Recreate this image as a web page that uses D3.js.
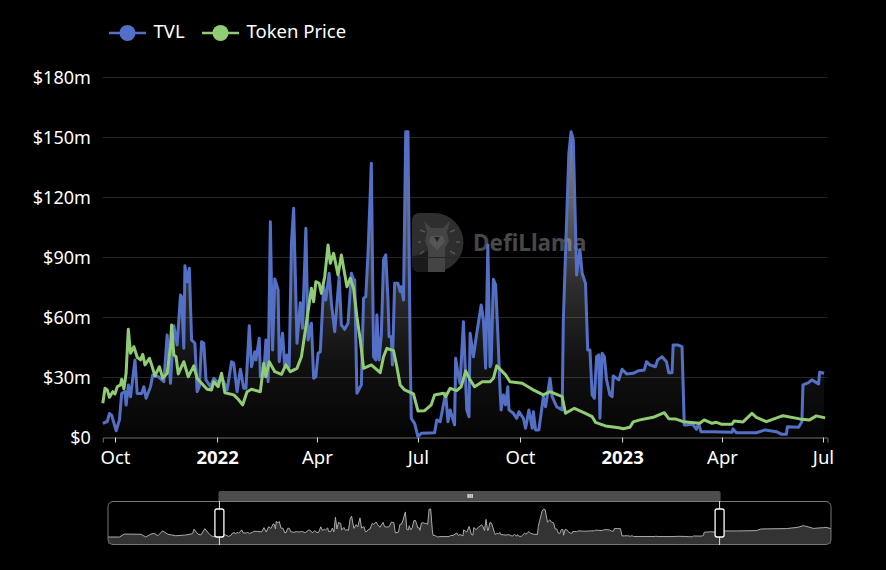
<!DOCTYPE html>
<html>
<head>
<meta charset="utf-8">
<script src="https://cdn.jsdelivr.net/npm/d3@7"></script>
<style>
	html, body { margin: 0; padding: 0; background: #000; }
	svg { display: block; }
	text { font-family: "Noto Sans", sans-serif; }
</style>
</head>
<body>
<div id="chart"></div>
<script>
// days are counted from 2021-10-01, values in $m
var tvlDays = [
	-11, -7, -5, -3, 1, 4, 6, 9, 10, 12,
	14, 18, 20, 24, 26, 28, 32, 34, 39, 44,
	47, 50, 53, 56, 59, 60, 62, 63, 65, 67,
	69, 72, 74, 76, 78, 80, 82, 86, 89, 93,
	96, 101, 105, 107, 110, 113, 116, 118, 121, 123,
	126, 127, 130, 131, 134, 136, 138, 140, 142, 144,
	147, 148, 151, 153, 155, 157, 159, 161, 164, 167,
	169, 172, 174, 177, 179, 181, 183, 185, 188, 190,
	193, 195, 198, 202, 204, 207, 210, 213, 215, 216,
	218, 222, 224, 226, 228, 231, 233, 235, 236, 238,
	240, 242, 244, 246, 247, 249, 250, 252, 255, 257,
	258, 260, 262, 264, 266, 267, 270, 273, 276, 288,
	290, 293, 298, 300, 302, 306, 307, 309, 311, 314,
	317, 319, 320, 323, 326, 330, 332, 334, 336, 338,
	339, 341, 343, 345, 347, 348, 350, 352, 354, 355,
	359, 362, 364, 368, 370, 373, 376, 377, 379, 382,
	386, 388, 392, 394, 398, 403, 404, 406, 409, 411,
	413, 416, 419, 421, 424, 426, 428, 430, 432, 434,
	436, 437, 439, 441, 443, 446, 448, 449, 454, 457,
	461, 467, 472, 477, 479, 482, 487, 489, 493, 497,
	499, 502, 503, 507, 511, 513, 516, 520, 524, 526,
	528, 539, 556, 557, 560, 578, 586, 596, 601, 605,
	606, 616, 619, 620, 625, 628, 634, 635, 639
];
var tvlValues = [
	7.1, 8, 12, 11.2, 3.4, 8.8, 22, 23, 16.2, 26.2,
	20.4, 38.8, 22, 22, 25.4, 19.6, 25.4, 31.2, 30.4, 27.9,
	51.2, 27.1, 55.9, 46.3, 71.2, 70.4, 44.6, 85.9, 77.9, 84.6,
	48.8, 47.1, 22.9, 25.4, 47.9, 47.1, 28.8, 25.4, 29.6, 27.1,
	30.4, 23.8, 37.9, 37.1, 22.9, 34.1, 24.6, 24.6, 55.9, 35.4,
	42.9, 38.8, 49.6, 30.4, 30.4, 48.8, 27.9, 107.9, 43.8, 79.3,
	73.8, 37.9, 52.1, 35.4, 41.3, 35.4, 97.1, 114.6, 47.1, 67.4,
	54.6, 104.6, 48.8, 57.1, 29.6, 30.4, 42.1, 42.9, 75.4, 68.8,
	82.1, 67.1, 52.9, 80.4, 56.3, 54.1, 57.1, 82.1, 78.8, 78.8,
	22.1, 26.3, 69.6, 70.4, 92.1, 137.1, 40.4, 38.8, 61.3, 38.8,
	51.3, 88.8, 91.3, 68.8, 50.4, 50.4, 36.3, 77.1, 77.1, 72.9,
	75.4, 68.8, 152.9, 152.9, 42.1, 9.6, 7.1, 0.4, 2.1, 2.4,
	8.8, 7.9, 22.1, 7.9, 13.8, 6.3, 39.6, 32.1, 27.1, 57.9,
	13.8, 10.4, 52.1, 40.4, 52.1, 66.3, 58.8, 34.6, 96.3, 35.4,
	37.1, 79.1, 76.3, 52.1, 23.8, 13.8, 21.3, 16.3, 25.4, 13.8,
	12.1, 9.6, 12.9, 9.6, 4.6, 13.8, 4.6, 12.9, 3.8, 3.8,
	20.4, 15.4, 29.6, 20.4, 15.4, 13.8, 57.9, 92.1, 142.1, 152.9,
	148.8, 81.3, 93.8, 82.1, 77.1, 43.8, 43.8, 21.3, 19.6, 40.4,
	41.3, 9.6, 42.1, 40.4, 28.8, 21.3, 20.4, 30.8, 28.8, 34.1,
	31.8, 32.1, 33.4, 33.8, 37.9, 36.3, 35.4, 38.8, 40.4, 37.9,
	32.4, 32.4, 46.3, 46.3, 45.4, 6.3, 6.3, 7.1, 4.1, 7.1,
	2.9, 2.9, 2.6, 4.3, 2.4, 2.4, 3.8, 2.9, 1.6, 1.6,
	5.4, 5.1, 7.9, 26.3, 27.4, 28.8, 26.8, 32.6, 32.1
];

var priceDays = [
	-11, -9, -7, -5, -2, 0, 2, 5, 6, 8,
	10, 12, 14, 17, 20, 23, 25, 27, 31, 33,
	36, 40, 43, 47, 50, 51, 53, 55, 57, 62,
	66, 71, 74, 78, 83, 87, 89, 93, 96, 99,
	107, 111, 115, 119, 123, 131, 134, 136, 139, 144,
	150, 154, 158, 164, 168, 172, 177, 179, 181, 184,
	186, 189, 192, 194, 197, 201, 204, 209, 212, 215,
	218, 221, 224, 231, 239, 242, 245, 251, 254, 257,
	261, 269, 273, 279, 285, 288, 296, 298, 302, 308,
	312, 316, 320, 324, 331, 338, 341, 344, 352, 356,
	367, 376, 386, 392, 403, 406, 414, 422, 430, 433,
	442, 454, 458, 464, 467, 473, 485, 495, 499, 505,
	512, 527, 531, 538, 542, 547, 556, 558, 566, 574,
	578, 587, 602, 617, 626, 632, 640
];
var priceValues = [
	17.1, 24.6, 23.8, 20.1, 22.9, 21.8, 25.4, 26.3, 29.1, 24.4,
	32.1, 54.1, 42.1, 45.4, 40.1, 38.8, 41.6, 36.3, 39.6, 36.3,
	30.8, 35.4, 29.6, 32.1, 45.4, 56.3, 41.3, 40.4, 31.8, 37.9,
	30.4, 35.8, 29.6, 27.1, 24.1, 23.8, 27.9, 25.4, 32.1, 22.4,
	21.3, 19.1, 16.3, 22.9, 24.1, 22.9, 37.1, 30.4, 37.9, 32.9,
	31.6, 36.3, 32.9, 34.6, 40.4, 55.4, 74.6, 67.9, 77.9, 77.1,
	72.1, 80.4, 96.3, 87.1, 92.1, 81.3, 91.3, 75.4, 79.6, 74.6,
	60.4, 48.8, 34.6, 36.3, 32.4, 40.4, 44.6, 43.4, 35.4, 26.3,
	23.8, 21.8, 13.3, 13.4, 16.3, 21.3, 22.1, 20.4, 24.6, 23.4,
	25.4, 33.3, 28.8, 25.4, 27.9, 27.9, 29.6, 35.8, 31.3, 27.9,
	27.1, 24.1, 21.3, 22.9, 20.4, 12.1, 14.6, 12.6, 10.4, 7.6,
	5.8, 4.9, 4.4, 5.1, 7.8, 8.8, 10.1, 12.4, 9.4, 9.3,
	7.9, 7.1, 8.8, 7.1, 7.6, 6.6, 6.6, 8.3, 7.8, 12.1,
	10.1, 7.9, 10.9, 9.3, 8.8, 10.8, 9.8
];

// part of the history outside the zoomed window, only seen in the slider
var beforeDays = [-156, -141, -135, -113, -107, -100, -96, -91, -85, -78, -68, -55, -46, -44, -39, -35, -30, -24, -20, -13];
var beforeValues = [0, 0, 16, 15, 0, 16, 20, 7, 33, 15, 7, 11, 18, 42, 16, 11, 46, 15, 2, 2];
var afterDays = [645, 662, 688, 694, 727, 742, 749, 755, 762, 775, 778, 785];
var afterValues = [33, 33, 35, 44, 46, 53, 62, 56, 47, 51, 53, 46];

var seriesNames = ['TVL', 'Token Price'];
var seriesColors = ['#5470c6', '#91cc75'];
var yTicks = [0, 30, 60, 90, 120, 150, 180];
var xTickDays = [0, 92, 182, 273, 365, 457, 547, 638];
var xTickLabels = ['Oct', '2022', 'Apr', 'Jul', 'Oct', '2023', 'Apr', 'Jul'];

var svgWidth = 886;
var svgHeight = 570;

var startDate = Date.UTC(2021, 9, 1);
function toDate(day) {
	return new Date(startDate + day * 86400000);
}
function zip(days, values) {
	return days.map(function(d, i) {
		return { date: toDate(d), value: values[i] };
	});
}

var tvl = zip(tvlDays, tvlValues);
var price = zip(priceDays, priceValues);
var fullHistory = zip(beforeDays, beforeValues).concat(tvl, zip(afterDays, afterValues));

var svg = d3.select('#chart').append('svg').attr('width', svgWidth).attr('height', svgHeight);

var xaxis = d3.scaleUtc().domain([toDate(-11), toDate(642)]).range([102.8, 827.4]);
var yaxis = d3.scaleLinear().domain([0, 180]).range([437.5, 77.5]);

// gradient under the tvl line
var defs = svg.append('defs');
var grad = defs.append('linearGradient')
	.attr('id', 'tvlFill')
	.attr('gradientUnits', 'userSpaceOnUse')
	.attr('x1', 0).attr('x2', 0)
	.attr('y1', yaxis(153)).attr('y2', yaxis(0));
grad.append('stop').attr('offset', 0).attr('stop-color', '#fff').attr('stop-opacity', 0.55);
grad.append('stop').attr('offset', 0.5).attr('stop-color', '#fff').attr('stop-opacity', 0.18);
grad.append('stop').attr('offset', 0.75).attr('stop-color', '#fff').attr('stop-opacity', 0.07);
grad.append('stop').attr('offset', 1).attr('stop-color', '#fff').attr('stop-opacity', 0.02);

// watermark
var mark = svg.append('g').attr('class', 'watermark');
mark.append('path')
	.attr('d', 'M420,213H434A29.5,29.5 0 0 1 434,272H420Q412,272 412,264V221Q412,213 420,213Z')
	.attr('fill', '#2e2e2e');
mark.append('path')
	.attr('d', 'M412,256Q422,256 428,250V272H420Q412,272 412,264Z')
	.attr('fill', '#1a1a1a');
mark.append('path')
	.attr('d', 'M424,221L431,228H443L450,221L447,232L449,241L445,248V272H428V248L425,241L427,232Z')
	.attr('fill', '#444');
mark.append('path')
	.attr('d', 'M431,236H443L445,242L437,250L429,242Z')
	.attr('fill', '#555');
mark.append('path')
	.attr('d', 'M434,237H440L437,242Z')
	.attr('fill', '#222');
var markTicks = 'M420,230L425,232M418,242H421M420,254L424,251M455,230L450,232M460,242H456M455,254L450,251';
mark.append('path')
	.attr('d', markTicks)
	.attr('fill', 'none')
	.attr('stroke', '#555')
	.attr('stroke-width', 1.5);
mark.append('text')
	.attr('x', 473)
	.attr('y', 251)
	.attr('font-size', 22.5)
	.attr('font-weight', 700)
	.attr('fill', '#484848')
	.text('DefiLlama');

// axes
var leftAxis = d3.axisLeft(yaxis)
	.tickValues(yTicks)
	.tickSize(0)
	.tickPadding(12)
	.tickFormat(function(d) { return '$' + d + (d === 0 ? '' : 'm'); });
var leftG = svg.append('g').attr('transform', 'translate(102.8, 0)').call(leftAxis);
leftG.select('.domain').remove();
leftG.selectAll('text').attr('fill', '#fff').attr('font-size', 18);

svg.append('g').selectAll('line')
	.data(yTicks.filter(function(d) { return d > 0; }))
	.enter()
	.append('line')
	.attr('x1', 102.8)
	.attr('x2', 827.4)
	.attr('y1', function(d) { return yaxis(d); })
	.attr('y2', function(d) { return yaxis(d); })
	.attr('stroke', '#262626');

var bottomAxis = d3.axisBottom(xaxis)
	.tickValues(xTickDays.map(toDate))
	.tickSizeOuter(0)
	.tickSize(5)
	.tickPadding(8)
	.tickFormat(function(d, i) { return xTickLabels[i]; });
var bottomG = svg.append('g').attr('transform', 'translate(0, 437.5)').call(bottomAxis);
bottomG.select('.domain').attr('stroke', '#6e6e6e');
bottomG.selectAll('.tick line').attr('stroke', '#ddd');
bottomG.selectAll('text')
	.attr('fill', '#fff')
	.attr('font-size', 18.5)
	.attr('font-weight', function(d, i) { return xTickLabels[i].length === 4 ? 700 : 400; });

// main series
var area = d3.area()
	.x(function(d) { return xaxis(d.date); })
	.y0(yaxis(0))
	.y1(function(d) { return yaxis(d.value); });
var line = d3.line()
	.x(function(d) { return xaxis(d.date); })
	.y(function(d) { return yaxis(d.value); });

svg.append('path').datum(tvl).attr('d', area).attr('fill', 'url(#tvlFill)');
svg.append('path').datum(tvl).attr('d', line)
	.attr('fill', 'none').attr('stroke', seriesColors[0]).attr('stroke-width', 3).attr('stroke-linejoin', 'round');
svg.append('path').datum(price).attr('d', line)
	.attr('fill', 'none').attr('stroke', seriesColors[1]).attr('stroke-width', 3).attr('stroke-linejoin', 'round');

// legend
var legendX = [109, 202];
var legend = svg.append('g').selectAll('g')
	.data(seriesNames)
	.enter()
	.append('g')
	.attr('transform', function(d, i) { return 'translate(' + legendX[i] + ', 33)'; });
legend.append('line')
	.attr('x1', 0).attr('x2', 37)
	.attr('stroke', function(d, i) { return seriesColors[i]; })
	.attr('stroke-width', 2.5);
legend.append('circle')
	.attr('cx', 18.5)
	.attr('r', 8)
	.attr('fill', function(d, i) { return seriesColors[i]; });
legend.append('text')
	.attr('x', 44.5)
	.attr('y', 5)
	.attr('font-size', 18.5)
	.attr('fill', '#fff')
	.text(function(d) { return d; });

// slider under the chart
var miniX = d3.scaleUtc().domain([toDate(-156), toDate(785)]).range([108, 831]);
var miniY = d3.scaleLinear().domain([0, 153]).range([537, 509]);
var miniArea = d3.area()
	.x(function(d) { return miniX(d.date); })
	.y0(544)
	.y1(function(d) { return miniY(d.value); });
var miniLine = d3.line()
	.x(function(d) { return miniX(d.date); })
	.y(function(d) { return miniY(d.value); });

var handleLeft = miniX(toDate(-11));
var handleRight = miniX(toDate(640));

svg.append('path').datum(fullHistory).attr('d', miniArea).attr('fill', '#333');
svg.append('path').datum(fullHistory).attr('d', miniLine)
	.attr('fill', 'none').attr('stroke', '#aaa').attr('stroke-width', 1);
svg.append('rect')
	.attr('x', 108).attr('y', 501.5)
	.attr('width', 723).attr('height', 43)
	.attr('rx', 5)
	.attr('fill', 'none')
	.attr('stroke', '#777');
svg.append('path')
	.attr('d', 'M' + (handleLeft - 1) + ',501V493Q' + (handleLeft - 1) + ',491 ' + (handleLeft + 1) + ',491H' + (handleRight - 1) + 'Q' + (handleRight + 1) + ',491 ' + (handleRight + 1) + ',493V501Z')
	.attr('fill', '#4d4d4d');
[-1.5, 0.5, 2.5].forEach(function(dx) {
	svg.append('rect')
		.attr('x', (handleLeft + handleRight) / 2 + dx - 0.5).attr('y', 494)
		.attr('width', 1.2).attr('height', 4)
		.attr('fill', '#fff');
});
[handleLeft, handleRight].forEach(function(px) {
	svg.append('line')
		.attr('x1', px).attr('x2', px)
		.attr('y1', 501).attr('y2', 545)
		.attr('stroke', '#ddd');
	svg.append('rect')
		.attr('x', px - 4.5).attr('y', 509)
		.attr('width', 9).attr('height', 28)
		.attr('rx', 2)
		.attr('fill', '#000')
		.attr('stroke', '#fff')
		.attr('stroke-width', 1.3);
});
</script>
</body>
</html>
